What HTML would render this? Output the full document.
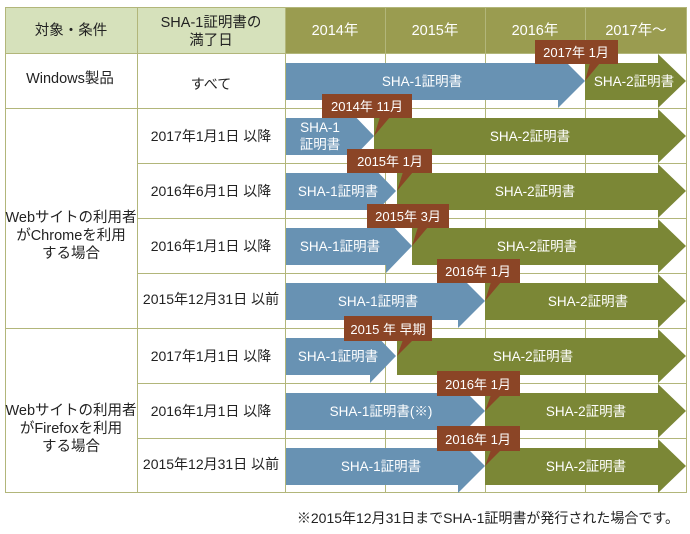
<!DOCTYPE html>
<html><head><meta charset="utf-8"><style>
body{margin:0;background:#fff}
svg{display:block}
text{font-family:"Liberation Sans","Noto Sans CJK JP",sans-serif}
</style></head><body>
<svg width="690" height="534" viewBox="0 0 690 534">
<rect x="5" y="7" width="280" height="46" fill="#d6e1bb"/>
<rect x="285" y="7" width="402" height="46" fill="#9a9c50"/>
<g stroke="#b2b67a" stroke-width="1" fill="none">
<rect x="5.5" y="7.5" width="681" height="485"/>
<line x1="137.5" y1="7" x2="137.5" y2="493"/>
<line x1="285.5" y1="7" x2="285.5" y2="493"/>
<line x1="385.5" y1="7" x2="385.5" y2="493"/>
<line x1="485.5" y1="7" x2="485.5" y2="493"/>
<line x1="585.5" y1="7" x2="585.5" y2="493"/>
<line x1="5" y1="53.5" x2="687" y2="53.5"/>
<line x1="5" y1="108.5" x2="687" y2="108.5"/>
<line x1="137" y1="163.5" x2="687" y2="163.5"/>
<line x1="137" y1="218.5" x2="687" y2="218.5"/>
<line x1="137" y1="273.5" x2="687" y2="273.5"/>
<line x1="5" y1="328.5" x2="687" y2="328.5"/>
<line x1="137" y1="383.5" x2="687" y2="383.5"/>
<line x1="137" y1="438.5" x2="687" y2="438.5"/>
</g>
<g font-size="14.5" fill="#222" text-anchor="middle">
<text x="71" y="35">対象・条件</text>
<text x="211" y="27">SHA-1証明書の</text>
<text x="211" y="45">満了日</text>
<text x="70" y="83">Windows製品</text>
<text x="211" y="89" font-size="14">すべて</text>
<g font-size="14">
<text x="211" y="141">2017年1月1日 以降</text>
<text x="211" y="196">2016年6月1日 以降</text>
<text x="211" y="251">2016年1月1日 以降</text>
<text x="211" y="304">2015年12月31日 以前</text>
<text x="211" y="361">2017年1月1日 以降</text>
<text x="211" y="416">2016年1月1日 以降</text>
<text x="211" y="469">2015年12月31日 以前</text>
</g>
<text x="71" y="222">Webサイトの利用者</text>
<text x="71" y="240">がChromeを利用</text>
<text x="71" y="258">する場合</text>
<text x="71" y="415">Webサイトの利用者</text>
<text x="71" y="433">がFirefoxを利用</text>
<text x="71" y="451">する場合</text>
</g>
<g font-size="14.5" fill="#fff" text-anchor="middle">
<text x="335" y="35">2014年</text><text x="435" y="35">2015年</text><text x="535" y="35">2016年</text><text x="636" y="35">2017年〜</text>
</g>
<g font-size="13.5" fill="#fff" text-anchor="middle">
<polygon points="286,63 558,63 558,54 585,81 558,108 558,100 286,100" fill="#6892b3"/>
<polygon points="585,63 658,63 658,54 686,81 658,108 658,100 585,100" fill="#7b8736"/>
<text x="422" y="86">SHA-1証明書</text><text x="634" y="86">SHA-2証明書</text>
<polygon points="286,118 348,118 348,109 374,136 348,163 348,155 286,155" fill="#6892b3"/>
<polygon points="374,118 658,118 658,109 686,136 658,163 658,155 374,155" fill="#7b8736"/>
<text x="320" y="132">SHA-1</text><text x="320" y="149">証明書</text><text x="530" y="141">SHA-2証明書</text>
<polygon points="286,173 370,173 370,164 396,191 370,218 370,210 286,210" fill="#6892b3"/>
<polygon points="397,173 658,173 658,164 686,191 658,218 658,210 397,210" fill="#7b8736"/>
<text x="338" y="196">SHA-1証明書</text><text x="535" y="196">SHA-2証明書</text>
<polygon points="286,228 386,228 386,219 412,246 386,273 386,265 286,265" fill="#6892b3"/>
<polygon points="412,228 658,228 658,219 686,246 658,273 658,265 412,265" fill="#7b8736"/>
<text x="340" y="251">SHA-1証明書</text><text x="537" y="251">SHA-2証明書</text>
<polygon points="286,283 458,283 458,274 485,301 458,328 458,320 286,320" fill="#6892b3"/>
<polygon points="485,283 658,283 658,274 686,301 658,328 658,320 485,320" fill="#7b8736"/>
<text x="378" y="306">SHA-1証明書</text><text x="588" y="306">SHA-2証明書</text>
<polygon points="286,338 370,338 370,329 396,356 370,383 370,375 286,375" fill="#6892b3"/>
<polygon points="397,338 658,338 658,329 686,356 658,383 658,375 397,375" fill="#7b8736"/>
<text x="338" y="361">SHA-1証明書</text><text x="533" y="361">SHA-2証明書</text>
<polygon points="286,393 458,393 458,384 485,411 458,438 458,430 286,430" fill="#6892b3"/>
<polygon points="485,393 658,393 658,384 686,411 658,438 658,430 485,430" fill="#7b8736"/>
<text x="381" y="416">SHA-1証明書(※)</text><text x="586" y="416">SHA-2証明書</text>
<polygon points="286,448 458,448 458,439 485,466 458,493 458,485 286,485" fill="#6892b3"/>
<polygon points="485,448 658,448 658,439 686,466 658,493 658,485 485,485" fill="#7b8736"/>
<text x="381" y="471">SHA-1証明書</text><text x="586" y="471">SHA-2証明書</text>
</g>
<g fill="#8b4526">
<rect x="535" y="40" width="83" height="24"/><polygon points="590,63 600,63 585,81"/>
<rect x="322" y="94" width="90" height="24"/><polygon points="380,117 390,117 374,136"/>
<rect x="347" y="149" width="85" height="24"/><polygon points="403,172 413,172 397,191"/>
<rect x="367" y="204" width="82" height="24"/><polygon points="418,227 428,227 412,246"/>
<rect x="437" y="259" width="83" height="24"/><polygon points="491,282 501,282 485,301"/>
<rect x="344" y="316" width="88" height="25"/><polygon points="403,340 413,340 397,356"/>
<rect x="437" y="371" width="83" height="25"/><polygon points="491,395 501,395 485,411"/>
<rect x="437" y="426" width="83" height="25"/><polygon points="491,450 501,450 485,466"/>
</g>
<g font-size="13" fill="#fff" text-anchor="middle">
<text x="576" y="57">2017年 1月</text>
<text x="367" y="111">2014年 11月</text>
<text x="390" y="166">2015年 1月</text>
<text x="408" y="221">2015年 3月</text>
<text x="478" y="276">2016年 1月</text>
<text x="388" y="334">2015 年 早期</text>
<text x="478" y="389">2016年 1月</text>
<text x="478" y="444">2016年 1月</text>
</g>
<text x="679" y="523" font-size="14" fill="#222" text-anchor="end">※2015年12月31日までSHA-1証明書が発行された場合です。</text>
</svg>
</body></html>
